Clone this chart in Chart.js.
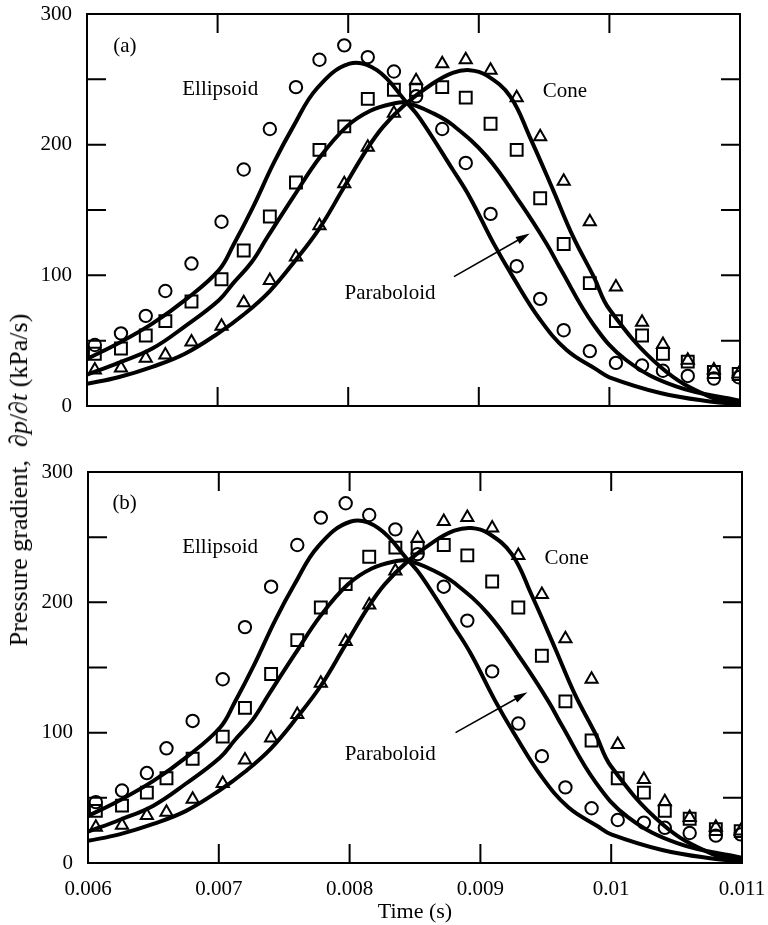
<!DOCTYPE html>
<html lang="en">
<head>
<meta charset="utf-8">
<title>Pressure gradient</title>
<script src="https://cdn.jsdelivr.net/npm/chart.js@4.4.1/dist/chart.umd.min.js"></script>
<style>
  html, body { margin: 0; padding: 0; background: #ffffff; }
  body { width: 768px; height: 925px; position: relative; overflow: hidden; font-family: "Liberation Serif", "Times New Roman", serif; color: #000; }
  canvas { position: absolute; left: 0; }
  #panel-a { top: 0; }
  #panel-b { top: 440px; }
  #y-title { position: absolute; left: 19px; top: 480px; transform: translate(-50%, -50%) rotate(-90deg); white-space: nowrap; font-size: 26px; }
</style>
</head>
<body>
<canvas id="panel-a" width="768" height="430"></canvas>
<canvas id="panel-b" width="768" height="485"></canvas>
<div id="y-title">Pressure gradient,&nbsp; ∂<i>p</i>/∂<i>t</i> (kPa/s)</div>
<script>
// measured points (symbols)
const MEASURED_TIME = [0.00606, 0.00626, 0.00645, 0.0066, 0.0068, 0.00703, 0.0072, 0.0074, 0.0076, 0.00778, 0.00797, 0.00815, 0.00835, 0.00852, 0.00872, 0.0089, 0.00909, 0.00929, 0.00947, 0.00965, 0.00985, 0.01005, 0.01025, 0.01041, 0.0106, 0.0108, 0.01099];
const ELLIPSOID_MEASURED = [46.7, 55.6, 69, 88, 109, 141, 181, 212, 244, 265, 276, 267, 256, 237, 212, 186, 147, 107, 82, 58, 42, 33, 31, 27, 23, 21, 22];
const PARABOLOID_MEASURED = [40, 44, 54, 65, 80, 97, 119, 145, 171, 196, 214, 235, 242, 242, 244, 236, 216, 196, 159, 124, 94, 65, 54, 40, 34, 26, 24.5];
const CONE_MEASURED = [27.5, 29, 36.5, 39, 49, 61, 79, 96, 114, 138, 170, 198, 224, 249, 262, 265, 257, 236, 206, 172, 141, 91, 64, 47, 35, 27.5, 24.5];

// computed curves (solid lines)
const ELLIPSOID_CURVE_TIME = [0.006, 0.00624, 0.0065, 0.00675, 0.00701, 0.00712, 0.00727, 0.00743, 0.00758, 0.00776, 0.00801, 0.00822, 0.00845, 0.00855, 0.0088, 0.00893, 0.00911, 0.00926, 0.00947, 0.00967, 0.0099, 0.01, 0.01039, 0.01077, 0.011];
const ELLIPSOID_CURVE = [36, 48, 63, 81, 104, 123, 152, 186, 214, 243, 262, 257, 232, 220, 181, 160, 125, 99, 66, 43, 28, 22, 10, 3.5, 1.5];
const PARABOLOID_CURVE_TIME = [0.006, 0.00624, 0.0065, 0.00675, 0.00701, 0.00712, 0.00726, 0.00738, 0.00758, 0.00778, 0.00799, 0.00817, 0.00835, 0.00845, 0.00865, 0.0088, 0.00906, 0.00932, 0.00952, 0.00962, 0.00988, 0.01013, 0.01051, 0.011];
const PARABOLOID_CURVE = [24, 33, 44, 61, 81, 94, 110, 129, 160, 190, 214, 226, 231.5, 232, 224, 215, 191, 155, 124, 106, 62, 35, 15, 4];
const CONE_CURVE_TIME = [0.006, 0.00624, 0.0065, 0.00675, 0.00701, 0.0072, 0.0074, 0.0076, 0.00778, 0.00796, 0.00814, 0.00827, 0.00845, 0.00865, 0.0088, 0.00893, 0.00906, 0.00924, 0.00939, 0.00957, 0.00972, 0.00988, 0.01, 0.01039, 0.01077, 0.011];
const CONE_CURVE = [17, 22, 30, 40, 56, 70, 88, 112, 136, 166, 196, 214, 232, 247, 255, 257, 253, 237, 206, 165, 130, 99, 74, 30, 7, 3];

const X_TICKS = [0.006, 0.007, 0.008, 0.009, 0.01, 0.011];
const X_TICK_LABELS = ["0.006", "0.007", "0.008", "0.009", "0.01", "0.011"];
const Y_TICKS = [0, 50, 100, 150, 200, 250, 300];
const Y_TICK_LABELS = ["0", "", "100", "", "200", "", "300"];

const FONT = "\"Liberation Serif\", \"Times New Roman\", serif";

// text and arrow placement inside each panel, in axis units
const PANEL_NOTES = {
  a: {
    texts: [["(a)", 0.00629, 275], ["Ellipsoid", 0.00702, 242], ["Cone", 0.00966, 241], ["Paraboloid", 0.00832, 86]],
    arrow: [0.00881, 99, 0.00939, 132]
  },
  b: {
    texts: [["(b)", 0.00628, 276], ["Ellipsoid", 0.00701, 242], ["Cone", 0.00966, 234], ["Paraboloid", 0.00831, 83]],
    arrow: [0.00881, 100, 0.00936, 131]
  }
};

function pairs(xs, ys) {
  return xs.map((x, i) => ({ x: x, y: ys[i] }));
}

const frameTicks = {
  id: "frameTicks",
  afterDatasetsDraw(chart) {
    const { ctx, chartArea: a, scales } = chart;
    const len = 19;
    ctx.save();
    ctx.strokeStyle = "#000";
    ctx.lineWidth = 2;
    ctx.strokeRect(a.left, a.top, a.right - a.left, a.bottom - a.top);
    ctx.beginPath();
    X_TICKS.slice(1, -1).forEach((v) => {
      const px = scales.x.getPixelForValue(v);
      ctx.moveTo(px, a.top); ctx.lineTo(px, a.top + len);
      ctx.moveTo(px, a.bottom); ctx.lineTo(px, a.bottom - len);
    });
    Y_TICKS.slice(1, -1).forEach((v) => {
      const py = scales.y.getPixelForValue(v);
      ctx.moveTo(a.left, py); ctx.lineTo(a.left + len, py);
      ctx.moveTo(a.right, py); ctx.lineTo(a.right - len, py);
    });
    ctx.stroke();
    ctx.restore();
  }
};

const panelNotes = {
  id: "panelNotes",
  afterDraw(chart, args, opts) {
    const notes = PANEL_NOTES[opts.panel];
    const { ctx, scales } = chart;
    ctx.save();
    ctx.fillStyle = "#000";
    ctx.strokeStyle = "#000";
    ctx.font = "21px " + FONT;
    ctx.textAlign = "center";
    ctx.textBaseline = "middle";
    notes.texts.forEach(([t, x, y]) => {
      ctx.fillText(t, scales.x.getPixelForValue(x), scales.y.getPixelForValue(y));
    });
    const [x0, y0, x1, y1] = notes.arrow;
    const ax = scales.x.getPixelForValue(x0), ay = scales.y.getPixelForValue(y0);
    const bx = scales.x.getPixelForValue(x1), by = scales.y.getPixelForValue(y1);
    const ang = Math.atan2(by - ay, bx - ax);
    const head = 14;
    ctx.lineWidth = 1.6;
    ctx.beginPath();
    ctx.moveTo(ax, ay);
    ctx.lineTo(bx - Math.cos(ang) * head * 0.8, by - Math.sin(ang) * head * 0.8);
    ctx.stroke();
    ctx.beginPath();
    ctx.moveTo(bx, by);
    ctx.lineTo(bx - head * Math.cos(ang) + 4 * Math.sin(ang), by - head * Math.sin(ang) - 4 * Math.cos(ang));
    ctx.lineTo(bx - head * Math.cos(ang) - 4 * Math.sin(ang), by - head * Math.sin(ang) + 4 * Math.cos(ang));
    ctx.closePath();
    ctx.fill();
    ctx.restore();
  }
};

function curveSet(xs, ys) {
  return {
    data: pairs(xs, ys),
    showLine: true,
    borderColor: "#000",
    borderWidth: 4,
    pointRadius: 0,
    tension: 0.4,
    fill: false
  };
}

function symbolSet(ys, style, radius) {
  return {
    data: pairs(MEASURED_TIME, ys),
    showLine: false,
    pointStyle: style,
    pointRadius: radius,
    pointBorderWidth: 2,
    pointBorderColor: "#000",
    pointBackgroundColor: "rgba(0,0,0,0)"
  };
}

function crearConfig(panel, showXLabels, plotTop, plotRight, plotLeft, xHeight) {
  return {
    type: "scatter",
    data: {
      datasets: [
        curveSet(ELLIPSOID_CURVE_TIME, ELLIPSOID_CURVE),
        curveSet(PARABOLOID_CURVE_TIME, PARABOLOID_CURVE),
        curveSet(CONE_CURVE_TIME, CONE_CURVE),
        symbolSet(ELLIPSOID_MEASURED, "circle", 6.2),
        symbolSet(PARABOLOID_MEASURED, "rect", 8.4),
        symbolSet(CONE_MEASURED, "triangle", 7)
      ]
    },
    options: {
      responsive: false,
      animation: false,
      layout: { padding: { top: plotTop, right: plotRight, left: 0, bottom: 0 } },
      plugins: {
        legend: { display: false },
        tooltip: { enabled: false },
        panelNotes: { panel: panel }
      },
      scales: {
        x: {
          type: "linear",
          min: 0.006,
          max: 0.011,
          grid: { display: false, drawTicks: false },
          border: { display: false },
          afterBuildTicks(scale) { scale.ticks = X_TICKS.map((v) => ({ value: v })); },
          afterFit(scale) {
            scale.height = xHeight;
            scale.paddingLeft = 0;
            scale.paddingRight = 0;
          },
          ticks: {
            display: showXLabels,
            autoSkip: false,
            maxRotation: 0,
            padding: 14,
            color: "#000",
            font: { family: FONT, size: 21 },
            callback: (v, i) => X_TICK_LABELS[i]
          },
          title: {
            display: showXLabels,
            text: "Time (s)",
            color: "#000",
            padding: { top: 0, bottom: 0 },
            font: { family: FONT, size: 22 }
          }
        },
        y: {
          min: 0,
          max: 300,
          grid: { display: false, drawTicks: false },
          border: { display: false },
          afterBuildTicks(scale) { scale.ticks = Y_TICKS.map((v) => ({ value: v })); },
          afterFit(scale) {
            scale.width = plotLeft;
            scale.paddingTop = 0;
            scale.paddingBottom = 0;
          },
          ticks: {
            autoSkip: false,
            padding: 15,
            color: "#000",
            font: { family: FONT, size: 21 },
            callback: (v, i) => Y_TICK_LABELS[i]
          }
        }
      }
    },
    plugins: [frameTicks, panelNotes]
  };
}

document.addEventListener("DOMContentLoaded", () => {
  new Chart(document.getElementById("panel-a"), crearConfig("a", false, 14, 28, 87, 24));
  new Chart(document.getElementById("panel-b"), crearConfig("b", true, 32, 26, 88, 62));
});
</script>
</body>
</html>
